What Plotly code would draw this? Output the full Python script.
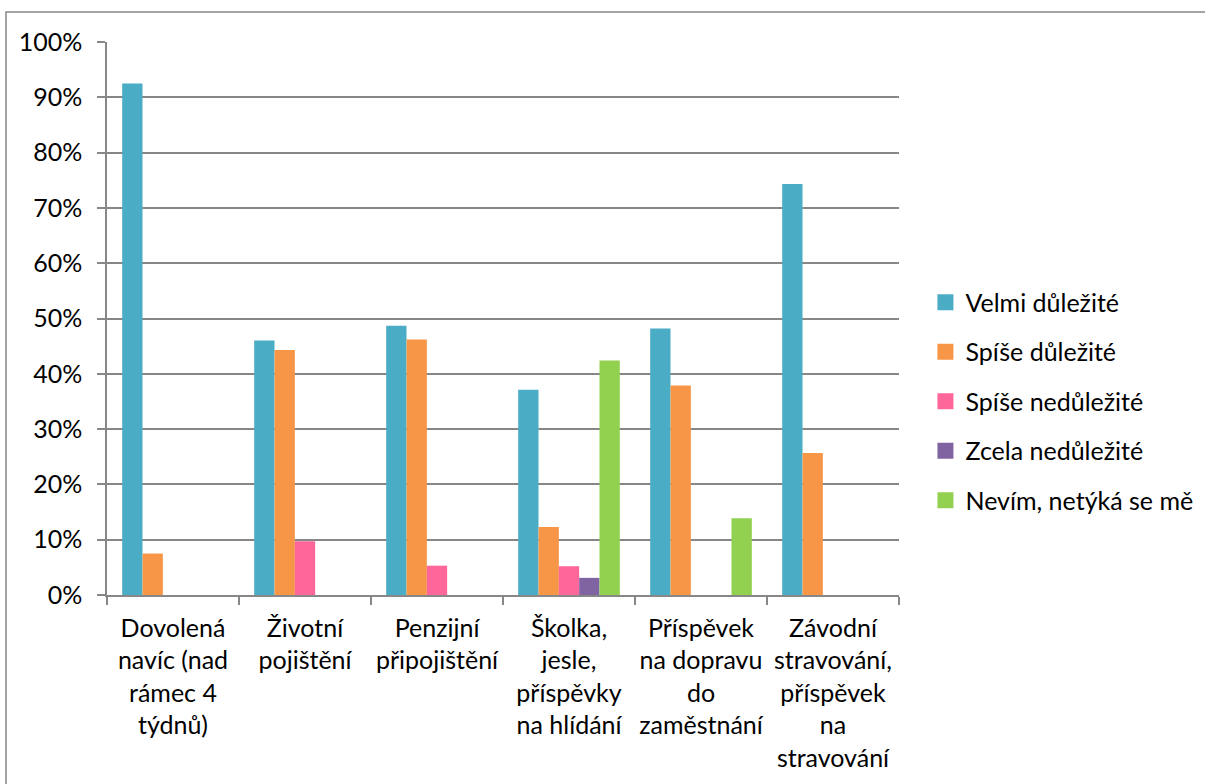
import plotly.graph_objects as go

# Benefit categories (x axis) and response shares in percent
categories = [
    "Dovolená<br>navíc (nad<br>rámec 4<br>týdnů)",
    "Životní<br>pojištění",
    "Penzijní<br>připojištění",
    "Školka,<br>jesle,<br>příspěvky<br>na hlídání",
    "Příspěvek<br>na dopravu<br>do<br>zaměstnání",
    "Závodní<br>stravování,<br>příspěvek<br>na<br>stravování",
]

series_names = [
    "Velmi důležité",
    "Spíše důležité",
    "Spíše nedůležité",
    "Zcela nedůležité",
    "Nevím, netýká se mě",
]

velmi_dulezite = [92.5, 46.0, 48.7, 37.1, 48.2, 74.3]
spise_dulezite = [7.5, 44.3, 46.2, 12.3, 37.9, 25.7]
spise_nedulezite = [0, 9.7, 5.3, 5.2, 0, 0]
zcela_nedulezite = [0, 0, 0, 3.1, 0, 0]
nevim = [0, 0, 0, 42.4, 13.9, 0]

y_tick_values = [0, 10, 20, 30, 40, 50, 60, 70, 80, 90, 100]
y_tick_labels = ["0%", "10%", "20%", "30%", "40%", "50%", "60%", "70%", "80%", "90%", "100%"]

series_values = [velmi_dulezite, spise_dulezite, spise_nedulezite, zcela_nedulezite, nevim]
colors = ["#4BACC6", "#F79646", "#FF6699", "#8064A2", "#92D050"]

FONT = "Lato"
FS = 25
GRID = "#878787"

fig = go.Figure()

for name, vals, col in zip(series_names, series_values, colors):
    fig.add_trace(go.Bar(
        x=categories, y=vals, name=name,
        marker=dict(color=col, line=dict(width=0)),
        showlegend=False, hoverinfo="x+y+name",
    ))

# Legend entries with larger square swatches
for i, (name, col) in enumerate(zip(series_names, colors)):
    fig.add_trace(go.Scatter(
        x=[None], y=[None], mode="markers", name=name,
        marker=dict(symbol="square", size=16, color=col, line=dict(width=0)),
        legendgroup=f"g{i}", showlegend=True,
    ))

fig.update_layout(
    width=1205, height=784,
    margin=dict(l=107, r=306, t=42, b=189, autoexpand=False),
    paper_bgcolor="white", plot_bgcolor="white",
    font=dict(family=FONT, size=FS, color="#000000"),
    barmode="group", bargap=0.23, bargroupgap=0,
    legend=dict(
        xref="container", yref="container",
        x=0.768, y=0.488, xanchor="left", yanchor="middle",
        traceorder="grouped", tracegroupgap=14,
        font=dict(family=FONT, size=FS, color="#000000"),
        bgcolor="rgba(0,0,0,0)", borderwidth=0,
    ),
    xaxis=dict(
        type="category", tickson="boundaries",
        ticks="outside", ticklen=8, tickwidth=1.5, tickcolor=GRID,
        showline=True, linecolor=GRID, linewidth=1.5,
        showgrid=False, ticklabelstandoff=10,
        tickangle=0, automargin=False,
        tickfont=dict(family=FONT, size=FS, color="#000000"),
    ),
    yaxis=dict(
        range=[0, 100], tickmode="array",
        tickvals=y_tick_values, ticktext=y_tick_labels,
        ticks="outside", ticklen=8, tickwidth=1.5, tickcolor=GRID,
        showline=True, linecolor=GRID, linewidth=1.5,
        showgrid=True, gridcolor=GRID, gridwidth=1.5,
        zeroline=False, ticklabelstandoff=10, automargin=False,
        tickfont=dict(family=FONT, size=FS, color="#000000"),
    ),
    shapes=[dict(
        type="rect", xref="paper", yref="paper",
        x0=(6 - 107) / 792, x1=(1212 - 107) / 792,
        y0=(595 - 795) / 553, y1=(595 - 12) / 553,
        line=dict(color=GRID, width=1.5), fillcolor="rgba(0,0,0,0)",
        layer="below",
    )],
)

fig.write_html("out.html")
